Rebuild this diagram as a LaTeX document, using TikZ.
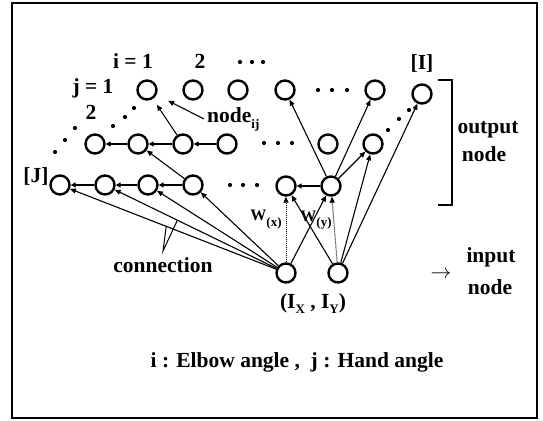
\documentclass[tikz,border=0pt]{standalone}
\usepackage{fontspec}
\setmainfont{Liberation Serif}
\usetikzlibrary{arrows.meta,calc}
\begin{document}
\begin{tikzpicture}[x=1pt,y=-1pt,
  neuron/.style={circle,draw,line width=2.4pt,minimum size=19pt,inner sep=0pt},
  lbl/.style={font=\fontsize{21.5}{24}\selectfont\bfseries,inner sep=0pt},
  conn/.style={line width=1.1pt,-{Triangle[length=6pt,width=5pt]}},
  lat/.style={line width=1.6pt,-{Triangle[length=5pt,width=5pt]}},
  wconn/.style={line width=1pt,densely dotted,-{Triangle[length=6pt,width=5pt]}},
  thinl/.style={line width=1pt}]
\useasboundingbox (0,0) rectangle (543,420);
\draw[line width=1.3pt] (12,3) rectangle (537,418);
% row 1 (j = 1)
\node[neuron] (a1) at (147,90) {};
\node[neuron] (a2) at (193,90) {};
\node[neuron] (a3) at (238,90) {};
\node[neuron] (a4) at (285,90) {};
\node[neuron] (a5) at (375,90) {};
\node[neuron] (a6) at (422,94) {};
% row 2 (j = 2)
\node[neuron] (b1) at (95,144) {};
\node[neuron] (b2) at (138,144) {};
\node[neuron] (b3) at (183,144) {};
\node[neuron] (b4) at (227,144) {};
\node[neuron] (b5) at (328,144) {};
\node[neuron] (b6) at (373,144) {};
% row 3 (j = J)
\node[neuron] (c1) at (60,185) {};
\node[neuron] (c2) at (105,185) {};
\node[neuron] (c3) at (148,185) {};
\node[neuron] (c4) at (193,185) {};
\node[neuron] (c5) at (286,186) {};
\node[neuron] (c6) at (331,186) {};
% input nodes
\node[neuron] (in1) at (286,273) {};
\node[neuron] (in2) at (338,273) {};
% dots
\foreach \p in {(240,62),(252,62),(263,62),
                (318,90),(332,90),(347,90),
                (264,143),(278,143),(292,143),
                (230,185),(243,185),(257,185),
                (55,152),(65,140),(75,128),
                (113,126),(125,117),(134,108),
                (388,130),(399,119),(409,110)}
  \fill \p circle (2.1pt);
% lateral arrows
\draw[lat] (b2) -- (b1);
\draw[lat] (b3) -- (b2);
\draw[lat] (b4) -- (b3);
\draw[lat] (c2) -- (c1);
\draw[lat] (c3) -- (c2);
\draw[lat] (c4) -- (c3);
\draw[lat] (c6) -- (c5);
% diagonal connections
\draw[conn] (c4) -- (b2);
\draw[conn,shorten >=7pt] (b3) -- (a1);
\draw[conn] (c6) -- (a4);
\draw[conn] (c6) -- (b6);
\draw[conn] (c6) -- (a5);
% input connections
\draw[conn] (in1) -- (c1);
\draw[conn] (in1) -- (c2);
\draw[conn] (in1) -- (c3);
\draw[conn] (in1) -- (c4);
\draw[wconn] (in1) -- (c5);
\draw[conn] (in1) -- (c6);
\draw[conn] (in2) -- (c5);
\draw[wconn] (in2) -- (c6);
\draw[conn] (in2) -- (b6);
\draw[conn] (in2) -- (a6);
% labels
\node[lbl] (ilab) at (133,61) {i = 1};
\node[lbl] (i2) at (200,61) {2};
\node[lbl] (jlab) at (93,88) {j = 1};
\node[lbl] (j2) at (91,112) {2};
\node[lbl] (Jlab) at (36,176) {[J]};
\node[lbl] (Ilab) at (422,63) {[I]};
\node[lbl,anchor=west] (nij) at (207,119) {node\raisebox{-6pt}{\fontsize{13}{13}\selectfont ij}};
\draw[conn,shorten >=13pt] ([xshift=-3pt]nij.west) -- (a1);
\node[lbl] (wx) at (266,220) {\fontsize{16}{16}\selectfont W\raisebox{-6pt}{\fontsize{13}{13}\selectfont (x)}};
\node[lbl] (wy) at (316,220) {\fontsize{16}{16}\selectfont W\raisebox{-5pt}{\fontsize{13}{13}\selectfont (y)}};
\node[lbl] (conlab) at (163,265) {connection};
\coordinate (cv) at (163,251);
\draw[thinl] ($(in1)!0.53!(c1)$) -- (cv) -- ($(in1)!0.60!(c2)$);
\node[lbl] (inlab) at (313,304) {(I\raisebox{-5pt}{\fontsize{13}{13}\selectfont X} , I\raisebox{-5pt}{\fontsize{13}{13}\selectfont Y})};
\draw[line width=1.3pt] (438,80) -- (452,80) -- (452,205) -- (438,205);
\node[lbl] (out1) at (488,130) {output};
\node[lbl] (out2) at (484,154) {node};
\node[inner sep=0pt] (arr) at (441,275) {\fontsize{20}{20}\selectfont$\rightarrow$};
\node[lbl] (inp1) at (491,257) {input};
\node[lbl] (inp2) at (490,287) {node};
\node[lbl] (legend) at (297,362) {i : Elbow angle ,\ \ j : Hand angle};
\end{tikzpicture}
\end{document}
